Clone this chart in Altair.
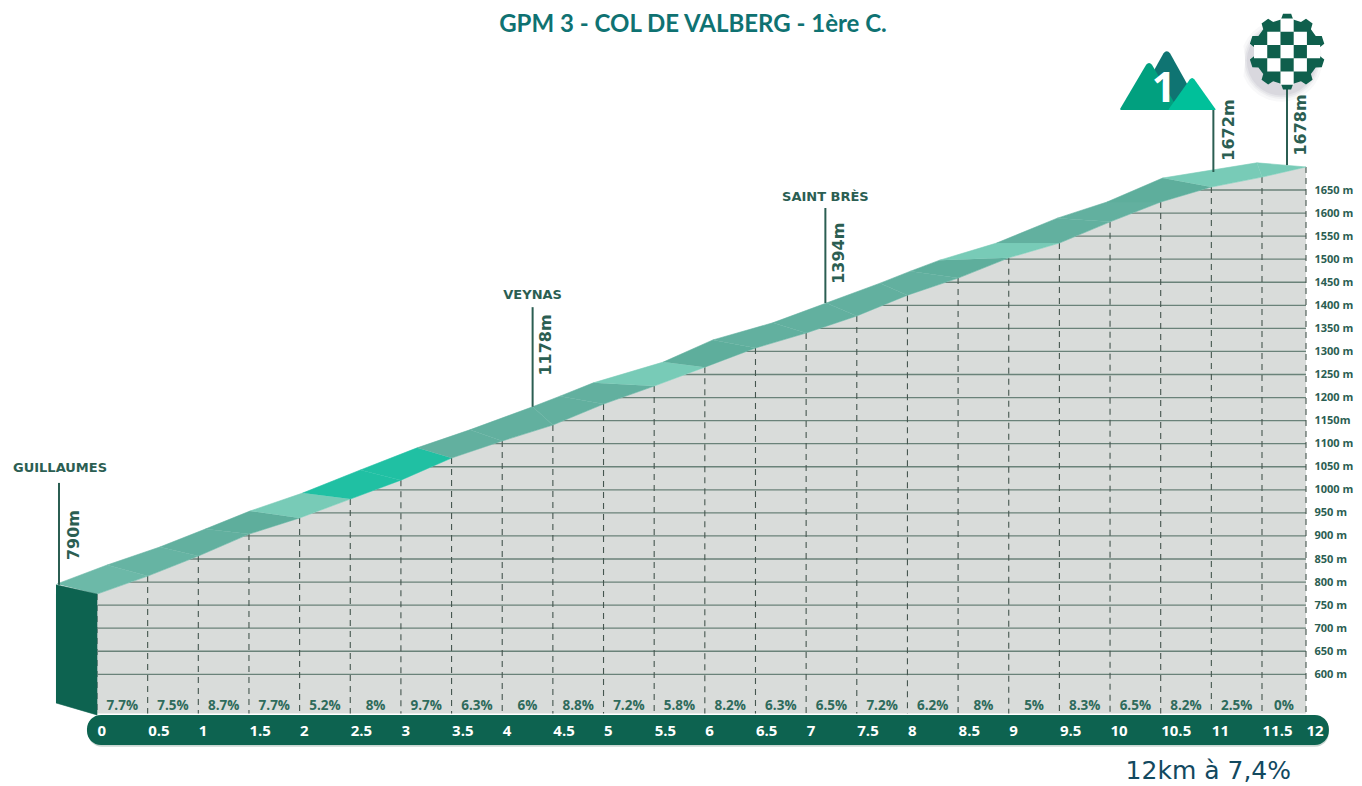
import math
import altair as alt
import pandas as pd

TITLE = "GPM 3 - COL DE VALBERG - 1ère C."
KM = [i * 0.5 for i in range(25)]
FRONT = [774, 813, 856.5, 904, 939, 980, 1021, 1069, 1106, 1140.5, 1186, 1225, 1266, 1307.5, 1340, 1377,
         1422, 1459, 1503, 1535, 1581, 1624, 1656.5, 1678, 1700]
BACK_KM = [-0.395, 0.10, 0.62, 1.07, 1.51, 2.03, 2.60, 3.16, 3.68, 4.30, 4.57, 4.90, 5.59, 6.08, 6.67, 7.20,
           7.73, 8.03, 8.32, 8.88, 9.48, 9.97, 10.52, 11.45, 12.0]
BACK_E = [796, 837, 876, 915, 954, 993, 1043, 1091, 1130, 1180, 1203, 1232, 1277, 1325, 1362, 1405,
          1448, 1474, 1498, 1535, 1589, 1624, 1676, 1709, 1700]
BASE = "#62b09f"
SHADE = "#5eae9c"
LIGHT = "#78cbb7"
BRIGHT = "#20c0a3"
SEG_COLORS = ["#6cb9a8", "#66b4a3", BASE, SHADE, LIGHT, BRIGHT, BRIGHT, BASE,
              BASE, BASE, BASE, LIGHT, SHADE, BASE, BASE, BASE,
              BASE, SHADE, LIGHT, BASE, BASE, SHADE, LIGHT, LIGHT]
GRADES = ["7.7%", "7.5%", "8.7%", "7.7%", "5.2%", "8%", "9.7%", "6.3%", "6%", "8.8%", "7.2%", "5.8%",
          "8.2%", "6.3%", "6.5%", "7.2%", "6.2%", "8%", "5%", "8.3%", "6.5%", "8.2%", "2.5%", "0%"]
ELEV_TICKS = list(range(600, 1700, 50))
PLACES = ["GUILLAUMES", "VEYNAS", "SAINT BRÈS"]
PLACE_KM = [-0.365, 4.30, 7.19]
PLACE_E = [1047, 1422, 1635]
STEM_KM = [-0.375, 4.30, 7.19, 11.02, 11.784]
STEM_BASE = [794, 1180, 1405, 1689, 1704]
STEM_TOP = [1015, 1396, 1611, 1828, 1878]
HEIGHT_TXT = ["790m", "1178m", "1394m", "1672m", "1678m"]
HEIGHT_KM = [-0.227, 4.43, 7.32, 11.175, 11.943]
HEIGHT_E = [902, 1314, 1513, 1780, 1791]
BASE_E = 515

INK = "#2b5e52"
DARK = "#0d6350"

K0, K1 = -0.8786, 12.5455
xscale = alt.Scale(domain=[K0, 11.5, 12, K1], range=[0, 1254, 1298, 1346], nice=False, zero=False)
yscale = alt.Scale(domain=[357.9, 1957.9], range=[738, 0], nice=False, zero=False)

x_axis = alt.Axis(values=KM, labelExpr="toString(datum.value)", labelAlign="left", labelFlush=False,
                  labelOverlap=False, labelBound=False, grid=False, domain=False, ticks=False,
                  labelFont="Open Sans", labelFontWeight="bold", labelFontSize=15, labelColor="white",
                  labelPadding=0, offset=-56, labelBaseline="middle", zindex=2, labelAngle=0)
y_axis = alt.Axis(values=ELEV_TICKS, orient="right",
                  labelExpr="datum.value == 1150 ? '1150m' : datum.value + ' m'", labelAlign="left",
                  labelFlush=False, labelOverlap=False, labelBound=False, grid=False, domain=False,
                  ticks=False, labelFont="Open Sans", labelFontWeight="bold", labelFontSize=11,
                  labelColor=INK, labelPadding=0, offset=-40, zindex=2)
X = alt.X("km:Q", scale=xscale, title=None, axis=x_axis)
Y = alt.Y("e:Q", scale=yscale, title=None, axis=y_axis)


def polygon(points, color, width=0.6):
    d = pd.DataFrame([{"km": p[0], "e": p[1], "i": i} for i, p in enumerate(points)])
    return alt.Chart(d).mark_line(color=color, fill=color, strokeWidth=width).encode(X, Y, order="i:Q")


front_df = pd.DataFrame({"km": KM, "e": FRONT, "base": [BASE_E] * 25, "top": [1730] * 25})

grid_df = pd.DataFrame({"km": [0.01] * len(ELEV_TICKS), "km2": [12] * len(ELEV_TICKS), "e": ELEV_TICKS})
grid = alt.Chart(grid_df).mark_rule(color="#6a8279", strokeWidth=1.3).encode(X, alt.X2("km2:Q"), Y)

gray = alt.Chart(front_df).mark_area(color="#d9dcda").encode(X, Y, alt.Y2("base:Q"))
mask = alt.Chart(front_df).mark_area(color="white").encode(X, Y, alt.Y2("top:Q"))
dashes = alt.Chart(front_df).mark_rule(color="#45564f", strokeWidth=1.1, strokeDash=[6, 5]).encode(X, Y, alt.Y2("base:Q"))

ribbon = []
for i, c in enumerate(SEG_COLORS):
    ribbon.append(polygon([(BACK_KM[i], BACK_E[i]), (BACK_KM[i + 1], BACK_E[i + 1]),
                           (KM[i + 1], FRONT[i + 1]), (KM[i], FRONT[i])], c))

wall = polygon([(-0.405, 794), (0, 774), (0, 512), (-0.405, 538)], DARK)

band_shadow = alt.Chart(pd.DataFrame({"km": [-0.09], "km2": [12.26], "e": [510], "e2": [443]})).mark_bar(
    color="#a9bdb6", opacity=0.6, cornerRadius=14).encode(X, alt.X2("km2:Q"), Y, alt.Y2("e2:Q"))
band = alt.Chart(pd.DataFrame({"km": [-0.099], "km2": [12.26], "e": [512], "e2": [447]})).mark_bar(
    color=DARK, cornerRadius=14).encode(X, alt.X2("km2:Q"), Y, alt.Y2("e2:Q"))

grade_df = pd.DataFrame({"km": [k + 0.25 for k in KM[:-1]], "e": [531] * 24, "t": GRADES})
grade_txt = alt.Chart(grade_df).mark_text(font="Open Sans", fontWeight="bold", fontSize=13.5, color="#2f6b5c").encode(X, Y, text="t:N")

stems = alt.Chart(pd.DataFrame({"km": STEM_KM, "e": STEM_BASE, "e2": STEM_TOP})).mark_rule(color=INK, strokeWidth=2).encode(X, Y, alt.Y2("e2:Q"))
place_txt = alt.Chart(pd.DataFrame({"km": PLACE_KM, "e": PLACE_E, "t": PLACES})).mark_text(
    font="DejaVu Sans", fontWeight="bold", fontSize=13, color=INK).encode(X, Y, text="t:N")
height_txt = alt.Chart(pd.DataFrame({"km": HEIGHT_KM, "e": HEIGHT_E, "t": HEIGHT_TXT})).mark_text(
    font="DejaVu Sans", fontWeight="bold", fontSize=16, color=INK, angle=270).encode(X, Y, text="t:N")
summary = alt.Chart(pd.DataFrame({"km": [10.97], "e": [390], "t": ["12km à 7,4%"]})).mark_text(
    font="DejaVu Sans", fontSize=25, color="#12495f").encode(X, Y, text="t:N")


def gear_path(n=10, ro=1.0, ri=0.86):
    pts = []
    for t in range(n):
        a = 2 * math.pi * t / n
        s = 2 * math.pi / n
        for da, r in [(-0.30, ri), (-0.17, ro), (0.17, ro), (0.30, ri)]:
            pts.append((r * math.sin(a + da * s), -r * math.cos(a + da * s)))
    return "M" + "L".join(f"{x:.3f},{y:.3f}" for x, y in pts) + "Z"


def white_cells(c=0.348):
    cells = [(0, 0), (1, 1), (1, -1), (-1, 1), (-1, -1), (2, 0), (-2, 0), (0, 2), (0, -2)]
    out = ""
    for a, b in cells:
        l, t = (a - 0.5) * c, (b - 0.5) * c
        out += f"M{l:.3f},{t:.3f}h{c}v{c}h{-c}Z"
    return out


GK, GE = 11.785, 1950
halo = []
for s, op in [(6650, 0.05), (5800, 0.07), (5280, 0.09), (4780, 0.11)]:
    halo.append(alt.Chart(pd.DataFrame({"km": [11.72], "e": [1930]})).mark_circle(color="#7d7a90", opacity=op, size=s).encode(X, Y))
white_disc = alt.Chart(pd.DataFrame({"km": [10.72], "e": [1930]})).mark_circle(color="white", opacity=1, size=15400).encode(X, Y)

gear = alt.Chart(pd.DataFrame({"km": [GK], "e": [GE]})).mark_point(
    shape=gear_path(), filled=True, color="#0f5f4c", opacity=1, size=76 * 76).encode(X, Y)
checks = alt.Chart(pd.DataFrame({"km": [GK], "e": [GE]})).mark_point(
    shape=white_cells(), filled=True, color="white", opacity=1, size=76 * 76).encode(X, Y)


def tri(ratio):
    return f"M-0.1,{-ratio+0.1:.3f}Q0,{-ratio-0.03:.3f} 0.1,{-ratio+0.1:.3f}L1,{ratio-0.04:.3f}Q1,{ratio:.3f} 0.95,{ratio:.3f}L-0.95,{ratio:.3f}Q-1,{ratio:.3f} -1,{ratio-0.04:.3f}Z"


mountains = []
for k, e, ratio, w, c in [(10.56, 1888.5, 0.88, 68, "#0f7472"), (10.385, 1875.5, 0.83, 58, "#01a07f"), (10.81, 1859, 0.70, 47, "#00c09a")]:
    mountains.append(alt.Chart(pd.DataFrame({"km": [k], "e": [e]})).mark_point(
        shape=tri(ratio), filled=True, color=c, opacity=1, size=w * w).encode(X, Y))
one = alt.Chart(pd.DataFrame({"km": [10.53], "e": [1870], "t": ["1"]})).mark_text(
    font="Open Sans", fontWeight="bold", fontSize=42, color="white").encode(X, Y, text="t:N")

chart = alt.layer(
    gray, grid, mask, dashes, *ribbon, wall, band_shadow, band, grade_txt,
    *halo, white_disc, stems, place_txt, height_txt, gear, checks, *mountains, one, summary,
).properties(
    width=1346, height=738,
    padding={"top": 40, "left": 0, "right": 0, "bottom": 0},
    autosize=alt.AutoSizeParams(type="none"),
    title=alt.TitleParams(text=TITLE, font="Lato", fontWeight="bold", fontSize=24,
                          color="#0f7272", anchor="middle", dx=12, offset=-38),
).configure_view(stroke=None)

chart.save("out.html", embed_options={"renderer": "svg", "actions": False})
